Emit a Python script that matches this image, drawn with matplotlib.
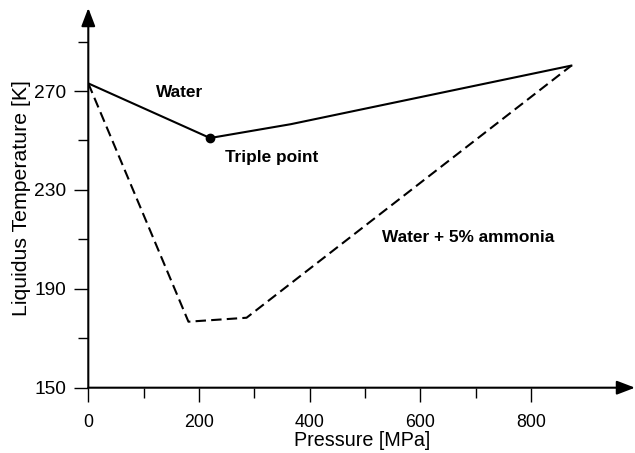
import matplotlib
matplotlib.use("Agg")
import matplotlib.pyplot as plt

plt.rcParams['font.family'] = ['Liberation Sans', 'DejaVu Sans']

# Data
water_p = [0, 220, 366, 873]
water_t = [273.1, 251.0, 256.6, 280.3]
ammonia_p = [0, 181, 286, 873]
ammonia_t = [273.1, 176.7, 178.3, 280.3]
triple_p = [220]
triple_t = [251.0]
x_major = [0, 200, 400, 600, 800]
x_minor = [100, 300, 500, 700]
y_major = [150, 190, 230, 270]
y_minor = [170, 210, 250, 290]

fig = plt.figure(figsize=(6.35, 4.53), dpi=100)
ax = fig.add_axes([88.3 / 635, (453 - 387.7) / 453, 1 - 88.3 / 635, (387.7 - 8) / 453])
ax.set_xlim(0, 988)
ax.set_ylim(150, 303.6)

for s in ['top', 'right', 'left', 'bottom']:
    ax.spines[s].set_visible(False)

ax.plot(water_p, water_t, color='black', lw=1.5, solid_joinstyle='miter')
ax.plot(ammonia_p, ammonia_t, color='black', lw=1.5, dashes=(5, 2.5))
ax.plot(triple_p, triple_t, 'o', color='black', markersize=6)

# axes with arrowheads
arrow_kw = dict(arrowstyle='-|>,head_length=1.1,head_width=0.42', lw=1.5,
                color='black', shrinkA=0, shrinkB=0)
ax.annotate('', xy=(1, 0), xytext=(0, 0), xycoords='axes fraction',
            textcoords='axes fraction', arrowprops=arrow_kw, annotation_clip=False)
ax.annotate('', xy=(0, 1), xytext=(0, 0), xycoords='axes fraction',
            textcoords='axes fraction', arrowprops=arrow_kw, annotation_clip=False)

ax.set_xticks(x_major)
ax.set_xticks(x_minor, minor=True)
ax.set_yticks(y_major)
ax.set_yticks(y_minor, minor=True)
ax.set_xticklabels([str(v) for v in x_major])
ax.set_yticklabels([str(v) for v in y_major])
ax.tick_params(which='major', length=10, width=1, direction='out')
ax.tick_params(which='minor', length=7, width=1, direction='out')
ax.tick_params(axis='x', which='major', labelsize=12.8, pad=9)
ax.tick_params(axis='y', which='major', labelsize=13.8, pad=6)

ax.set_xlabel('Pressure [MPa]', fontsize=14.2, labelpad=0)
ax.set_ylabel('Liquidus Temperature [K]', fontsize=15.3, labelpad=2)

ax.text(165, 269.6, 'Water', fontsize=12.4, fontweight='bold', ha='center', va='center')
ax.text(247, 243.3, 'Triple point', fontsize=12.4, fontweight='bold', ha='left', va='center')
ax.text(530.6, 210.6, 'Water + 5% ammonia', fontsize=12.4, fontweight='bold', ha='left', va='center')

fig.savefig('out.png', dpi=100)
